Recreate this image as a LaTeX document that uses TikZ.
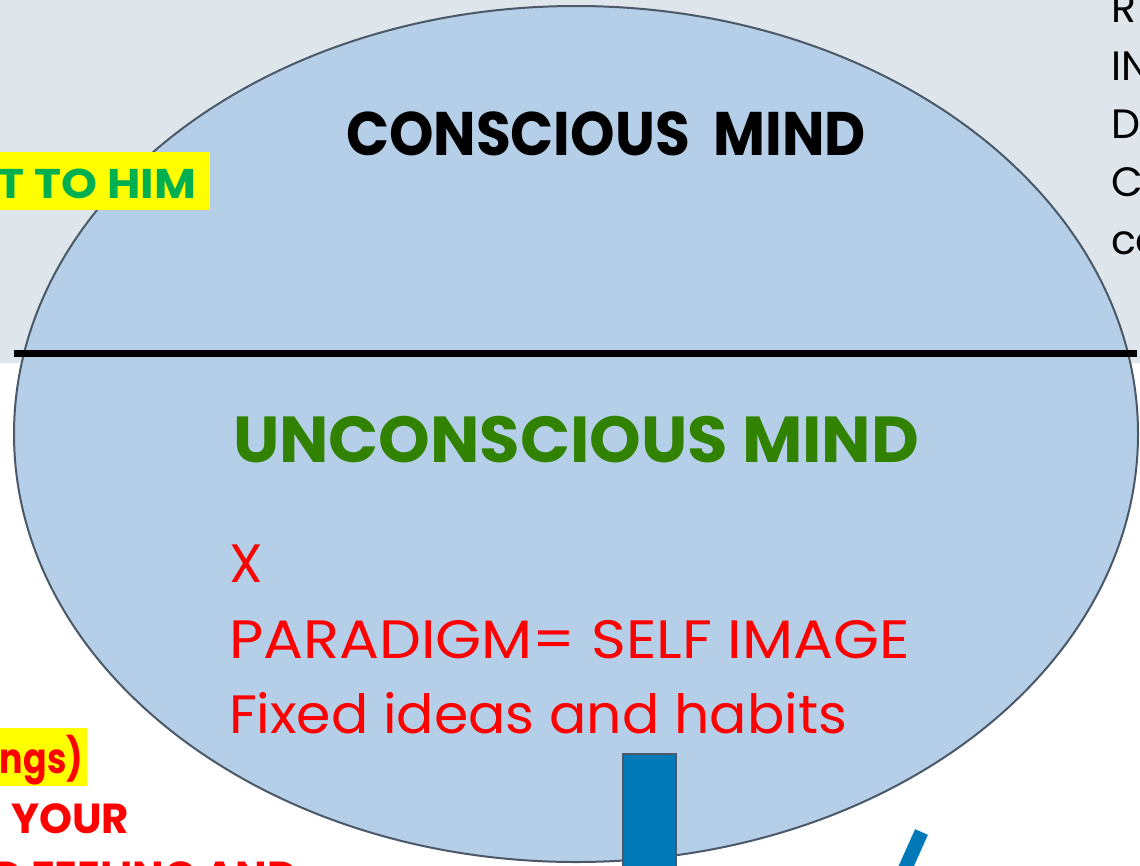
\documentclass[tikz,border=0pt]{standalone}
\usepackage{fontspec}
\usepackage{graphicx}
\setmainfont{Poppins}
\definecolor{bggray}{HTML}{DEE6EB}
\definecolor{ellfill}{HTML}{B4CFE7}
\definecolor{ellline}{HTML}{4A5868}
\definecolor{dkgreen}{HTML}{318200}
\definecolor{brgreen}{HTML}{00B050}
\definecolor{myred}{HTML}{FF0000}
\definecolor{myyellow}{HTML}{FFFF00}
\definecolor{myblue}{HTML}{0079B8}
\newcommand{\fitw}[3]{\resizebox{#1}{\height}{\fontsize{#2}{#2}\selectfont #3}}
\tikzset{
  txt/.style={inner sep=0pt, outer sep=0pt, anchor=base west},
  txte/.style={inner sep=0pt, outer sep=0pt, anchor=base east},
}
\begin{document}
\begin{tikzpicture}[x=1pt,y=-1pt]
\useasboundingbox (0,0) rectangle (1140,865);
\clip (0,0) rectangle (1140,865);
% background
\fill[bggray] (0,0) rectangle (1140,363);
% ellipse
\path[draw=ellline, fill=ellfill, line width=2pt] (576,434) ellipse [x radius=562, y radius=428];
% dividing line
\coordinate (lineL) at (14,353.5);
\coordinate (lineR) at (1137,353.5);
\draw[line width=7pt] (lineL) -- (lineR);
% texts
\node[txt] (conscious) at (346,155) {\fitw{520pt}{61.5}{\bfseries CONSCIOUS\ \ MIND}};
\node[txt, text=dkgreen] (unconscious) at (233,462) {\fitw{686pt}{65}{\bfseries UNCONSCIOUS MIND}};
\node[txt, text=myred] (xline) at (229,582) {\fontsize{54}{54}\selectfont X};
\node[txt, text=myred] (paradigm) at (229,658) {\fitw{681pt}{54}{PARADIGM= SELF IMAGE}};
\node[txt, text=myred] (fixed) at (229,733) {\fitw{618pt}{54}{Fixed ideas and habits}};
% left highlighted texts
\fill[myyellow] (0,152) rectangle (210,210);
\node[txte, text=brgreen] (tohim) at (196,198) {\fitw{198pt}{41.5}{\bfseries T TO HIM}};
\fill[myyellow] (0,728) rectangle (87,786);
\node[txte, text=myred] (ngs) at (83,773) {\fitw{83pt}{42}{\bfseries ngs)}};
\node[txt, text=myred] (your) at (11,833) {\fitw{118pt}{42}{\bfseries YOUR}};
\node[txte, text=myred] (feeling) at (298,891) {\fontsize{42}{42}\selectfont\bfseries D FEELING AND};
% right cut texts
\node[txt] (r1) at (1111,22) {\fontsize{41}{41}\selectfont R};
\node[txt] (r2) at (1111,80) {\fontsize{41}{41}\selectfont IN};
\node[txt] (r3) at (1111,138) {\fontsize{41}{41}\selectfont D};
\node[txt] (r4) at (1111,196) {\fontsize{41}{41}\selectfont C};
\node[txt] (r5) at (1111,254) {\fontsize{41}{41}\selectfont co};
% blue bar
\draw[fill=myblue, draw=ellline, line width=1.5pt] (623,754) rectangle (676,875);
% slanted stroke
\coordinate (slA) at (921.5,832);
\coordinate (slB) at (900,880);
\draw[myblue, line width=14pt] (slA) -- (slB);
\end{tikzpicture}
\end{document}
